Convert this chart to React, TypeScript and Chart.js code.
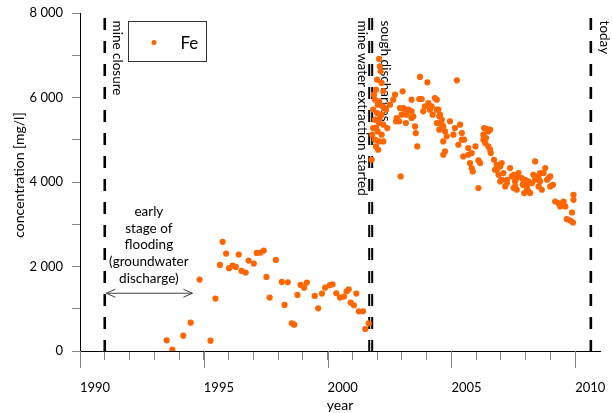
import { useEffect, useRef } from 'react';
import { Chart, registerables } from 'chart.js';

Chart.register(...registerables);

// ---- data ----
const seriesName = 'Fe';

const feYears = [
  1993.50, 1993.73, 1994.17, 1994.47, 1994.83, 1995.27, 1995.47, 1995.65, 1995.76, 1995.90,
  1996.02, 1996.16, 1996.29, 1996.41, 1996.52, 1996.69, 1996.81, 1997.02, 1997.14, 1997.29,
  1997.42, 1997.53, 1997.66, 1997.91, 1998.15, 1998.26, 1998.39, 1998.55, 1998.65, 1998.78,
  1998.91, 1999.05, 1999.16, 1999.48, 1999.62, 1999.77, 1999.90, 2000.09, 2000.20, 2000.35,
  2000.50, 2000.66, 2000.77, 2000.85, 2000.93, 2001.06, 2001.16, 2001.26, 2001.43, 2001.52,
  2001.66,
  2001.78, 2001.80, 2001.84, 2001.84, 2001.87, 2001.91, 2001.91, 2001.91, 2001.95, 2001.95,
  2001.95, 2002.00, 2002.00, 2002.02, 2002.03, 2002.04, 2002.08, 2002.08, 2002.08, 2002.08,
  2002.11, 2002.11, 2002.14, 2002.18, 2002.18, 2002.18, 2002.22, 2002.25, 2002.25, 2002.25,
  2002.28,
  2002.36, 2002.41, 2002.52, 2002.65, 2002.72, 2002.76, 2002.79, 2002.89, 2002.92, 2002.95,
  2002.99, 2003.03, 2003.06, 2003.12, 2003.16, 2003.19, 2003.26, 2003.39, 2003.39, 2003.39,
  2003.46, 2003.53, 2003.56, 2003.62, 2003.73, 2003.70, 2003.80, 2003.86, 2003.93, 2004.03,
  2004.07, 2004.13, 2004.20, 2004.24, 2004.33, 2004.41, 2004.41, 2004.41, 2004.47, 2004.51,
  2004.51, 2004.54, 2004.61, 2004.61, 2004.67, 2004.67, 2004.67, 2004.74, 2004.74, 2004.81,
  2004.94, 2005.08, 2005.14, 2005.22, 2005.28, 2005.35, 2005.42, 2005.42, 2005.51, 2005.48,
  2005.68, 2005.68, 2005.75, 2005.82, 2005.82, 2005.86, 2005.97, 2006.09, 2006.09, 2006.16,
  2006.29, 2006.29, 2006.32, 2006.36, 2006.40, 2006.43, 2006.49, 2006.49, 2006.56, 2006.56,
  2006.59, 2006.72, 2006.76, 2006.83, 2006.83, 2006.90, 2006.97, 2006.97, 2007.03, 2007.03,
  2007.10, 2007.17, 2007.24, 2007.24, 2007.37, 2007.44, 2007.51, 2007.51, 2007.57, 2007.57,
  2007.64, 2007.64, 2007.71, 2007.84, 2007.88, 2007.91, 2007.94, 2007.98, 2008.05, 2008.05,
  2008.11, 2008.11, 2008.18, 2008.25, 2008.31, 2008.38, 2008.38, 2008.45, 2008.52, 2008.52,
  2008.58, 2008.58, 2008.65, 2008.72, 2008.79, 2008.86, 2008.92, 2008.99, 2008.99, 2009.10,
  2009.19, 2009.33, 2009.39, 2009.53, 2009.60, 2009.66, 2009.80, 2009.87, 2009.91, 2009.93,
  2009.93,
];

const feConcentration = [
  253, 31, 363, 671, 1690, 244, 1240, 2038, 2583, 2306,
  1960, 2022, 1990, 2282, 1896, 1856, 2140, 2069, 2322, 2330,
  2377, 1754, 1264, 2156, 1635, 1090, 1627, 656, 624, 1327,
  1564, 1500, 1619, 1303, 1011, 1358, 1500, 1557, 1580, 1367,
  1264, 1287, 1414, 1462, 1145, 1083, 1358, 940, 940, 521,
  656,
  4527, 5120, 5278, 5712, 6067, 5949, 5475, 5001, 6186, 4842,
  5285, 6423, 5633, 5198, 5830, 4764, 6913, 5909, 5396, 4961,
  6738, 5520, 6620, 6344, 5593, 5119, 5790, 6146, 5356, 4961,
  5760,
  5712, 5277, 5830, 5949, 6067, 5435, 5515, 5435, 5752, 4131,
  5593, 6146, 5751, 5712, 5396, 5593, 5712, 5949, 5672, 5515,
  5553, 5316, 5159, 4842, 6486, 5964, 5964, 5672, 5790, 6360,
  5870, 5712, 5790, 5593, 5988, 5949, 5712, 5396, 5712, 5553,
  5238, 5593, 5475, 5356, 5316, 4961, 4645, 5198, 4724, 5080,
  5435, 5119, 5277, 6406, 4882, 5356, 5159, 5001, 5001, 4606,
  4803, 4645, 4448, 4685, 4330, 4250, 4842, 4511, 3856, 4448,
  5119, 5001, 5277, 4922, 5041, 5254, 5198, 4842, 5238, 4764,
  4685, 4527, 4290, 4408, 4290, 4171, 4368, 4013, 4448, 4053,
  4211, 3895, 4053, 3974, 4330, 4131, 4171, 3856, 4013, 3895,
  3816, 4093, 4211, 4093, 3934, 3974, 3737, 4053, 3895, 3816,
  3776, 4013, 3737, 3974, 4171, 4488, 4053, 4131, 3895, 4093,
  4211, 4013, 3816, 4211, 4330, 4053, 4093, 4131, 3895, 3934,
  3539, 3500, 3421, 3539, 3421, 3121, 3088, 3278, 3041, 3579,
  3697,
];

const xLabelYears = [1990, 1995, 2000, 2005, 2010];

const eventYears = [1991.0, 2001.68, 2001.80, 2010.63];
const eventLabels = ['mine closure', 'mine water extraction started', 'sough discharges', 'today'];

const floodingLines = ['early', 'stage of', 'flooding', '(groundwater', 'discharge)'];
const floodingSpanYears = [1991.06, 1994.54];

const xTitle = 'year';
const yTitle = 'concentration [mg/l]';

// ---- styling ----
const FONT = 'Lato, "Open Sans", sans-serif';
const ORANGE = '#ff6600';
const TICK_GREY = '#868686';
const EVENT_LINE_WIDTHS = [2.6, 2, 2, 2.6];
const EVENT_LABEL_OFFSETS = [8, -11, 9, 9.5];

function fmtThousands(v: number) {
  return String(v).replace(/\B(?=(\d{3})+(?!\d))/g, ' ');
}

const annotationPlugin = {
  id: 'mineAnnotations',
  beforeDatasetsDraw(chart: any) {
    const { ctx, scales } = chart;
    const x = scales.x;
    const y = scales.y;
    const top = y.getPixelForValue(7880);
    const bottom = y.getPixelForValue(0);
    ctx.save();
    // dashed event lines
    ctx.strokeStyle = '#000';
    ctx.setLineDash([12, 11]);
    eventYears.forEach((yr, i) => {
      const px = x.getPixelForValue(yr);
      ctx.lineWidth = EVENT_LINE_WIDTHS[i];
      ctx.beginPath();
      ctx.moveTo(px, top);
      ctx.lineTo(px, bottom);
      ctx.stroke();
    });
    ctx.setLineDash([]);
    // rotated event labels
    ctx.fillStyle = '#000';
    ctx.font = `13.5px ${FONT}`;
    ctx.textAlign = 'left';
    ctx.textBaseline = 'alphabetic';
    eventYears.forEach((yr, i) => {
      const px = x.getPixelForValue(yr) + EVENT_LABEL_OFFSETS[i];
      ctx.save();
      ctx.translate(px, top + 2.5);
      ctx.rotate(Math.PI / 2);
      ctx.fillText(eventLabels[i], 0, 0);
      ctx.restore();
    });
    // flooding text
    ctx.textAlign = 'center';
    const cx = x.getPixelForValue((floodingSpanYears[0] + floodingSpanYears[1]) / 2 - 0.02);
    const firstBase = y.getPixelForValue(3200);
    floodingLines.forEach((line, i) => {
      ctx.fillText(line, cx, firstBase + i * 16.7);
    });
    // double arrow
    const ay = y.getPixelForValue(1367);
    const ax1 = x.getPixelForValue(floodingSpanYears[0]);
    const ax2 = x.getPixelForValue(floodingSpanYears[1]);
    ctx.strokeStyle = '#404040';
    ctx.lineWidth = 1;
    ctx.beginPath();
    ctx.moveTo(ax1, ay);
    ctx.lineTo(ax2, ay);
    ctx.moveTo(ax1 + 9, ay - 4);
    ctx.lineTo(ax1, ay);
    ctx.lineTo(ax1 + 9, ay + 4);
    ctx.moveTo(ax2 - 9, ay - 4);
    ctx.lineTo(ax2, ay);
    ctx.lineTo(ax2 - 9, ay + 4);
    ctx.stroke();
    ctx.restore();
  },
  afterDraw(chart: any) {
    const { ctx, scales, chartArea } = chart;
    const x = scales.x;
    ctx.save();
    // long major ticks on x axis
    ctx.strokeStyle = TICK_GREY;
    ctx.lineWidth = 1;
    xLabelYears.forEach((yr) => {
      const px = Math.round(x.getPixelForValue(yr)) + 0.5;
      ctx.beginPath();
      ctx.moveTo(px, chartArea.bottom);
      ctx.lineTo(px, chartArea.bottom + 17);
      ctx.stroke();
    });
    // legend box
    ctx.strokeStyle = '#333';
    ctx.strokeRect(128.5, 21.5, 78, 40);
    ctx.fillStyle = ORANGE;
    ctx.beginPath();
    ctx.arc(154, 42.5, 2.5, 0, Math.PI * 2);
    ctx.fill();
    ctx.fillStyle = '#000';
    ctx.font = `17px ${FONT}`;
    ctx.textAlign = 'left';
    ctx.textBaseline = 'middle';
    ctx.fillText(seriesName, 180.5, 43.5);
    // axis titles
    ctx.font = `14px ${FONT}`;
    ctx.textAlign = 'center';
    ctx.textBaseline = 'alphabetic';
    ctx.fillText(xTitle, (chartArea.left + chartArea.right) / 2, 409.5);
    ctx.save();
    ctx.translate(24, 175);
    ctx.rotate(-Math.PI / 2);
    ctx.fillText(yTitle, 0, 0);
    ctx.restore();
    ctx.restore();
  },
};

export default function App() {
  const ref = useRef<HTMLCanvasElement>(null);
  useEffect(() => {
    const canvas = ref.current;
    if (!canvas) return;
    const points = feYears.map((yr, i) => ({ x: yr, y: feConcentration[i] }));
    const chart = new Chart(canvas, {
      type: 'scatter',
      data: {
        datasets: [
          {
            label: seriesName,
            data: points,
            backgroundColor: ORANGE,
            borderColor: ORANGE,
            borderWidth: 0,
            pointRadius: 3.1,
            pointHoverRadius: 3.1,
          },
        ],
      },
      options: {
        responsive: false,
        animation: false,
        devicePixelRatio: 1,
        events: [],
        layout: { padding: { top: 13, right: 12, left: 0, bottom: 0 } },
        plugins: { legend: { display: false }, tooltip: { enabled: false } },
        scales: {
          x: {
            type: 'linear',
            min: 1990,
            max: 2011,
            afterBuildTicks: (s: any) => {
              s.ticks = s.ticks.filter((t: any) => Number.isInteger(t.value) && t.value <= 2010);
            },
            afterFit: (s: any) => {
              s.height = 62;
              s.paddingLeft = 0;
              s.paddingRight = 0;
            },
            grid: { drawOnChartArea: false, drawTicks: true, tickLength: 9, tickColor: TICK_GREY, tickWidth: 1 },
            border: { display: true, color: '#000', width: 1 },
            ticks: {
              stepSize: 1,
              autoSkip: false,
              maxRotation: 0,
              minRotation: 0,
              align: 'start',
              padding: 20,
              color: '#000',
              font: { family: FONT, size: 13 },
              callback: (v: any) => (xLabelYears.includes(Number(v)) ? String(v) : ''),
            },
          },
          y: {
            type: 'linear',
            min: 0,
            max: 8000,
            afterFit: (s: any) => {
              s.width = 80;
              s.paddingTop = 0;
              s.paddingBottom = 0;
            },
            grid: { drawOnChartArea: false, drawTicks: true, tickLength: 8, tickColor: TICK_GREY, tickWidth: 1 },
            border: { display: true, color: '#000', width: 1 },
            ticks: {
              stepSize: 1000,
              autoSkip: false,
              padding: 9,
              color: '#000',
              font: { family: FONT, size: 13 },
              callback: (v: any) => (Number(v) % 2000 === 0 ? fmtThousands(Number(v)) : ''),
            },
          },
        },
      } as any,
      plugins: [annotationPlugin],
    });
    let alive = true;
    if ((document as any).fonts && (document as any).fonts.load) {
      (document as any).fonts.load(`13px Lato`).then(() => {
        if (alive) chart.update();
      });
    }
    return () => {
      alive = false;
      chart.destroy();
    };
  }, []);
  return (
    <div style={{ position: 'absolute', left: 0, top: 0, width: 612, height: 413, background: '#fff' }}>
      <canvas ref={ref} width={612} height={413} style={{ display: 'block' }} />
    </div>
  );
}
